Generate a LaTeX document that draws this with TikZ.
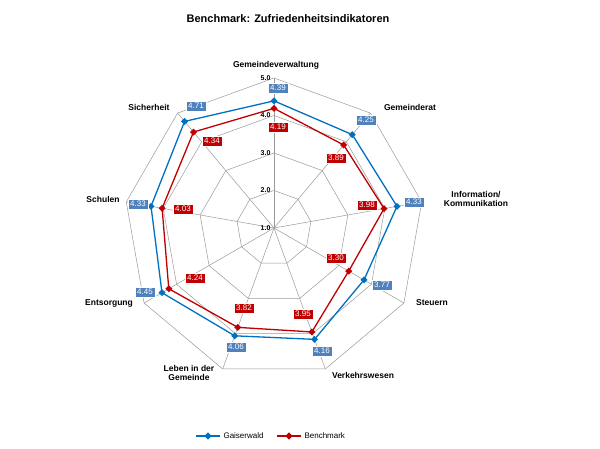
\documentclass[tikz,border=0pt]{standalone}
\usepackage{fontspec}
\setmainfont{Liberation Sans}
\usetikzlibrary{calc}
\usetikzlibrary{positioning}
\usetikzlibrary{shapes.geometric}
\definecolor{gblue}{RGB}{0,112,192}
\definecolor{lblue}{RGB}{79,129,189}
\definecolor{bred}{RGB}{192,0,0}
\tikzset{
  cat/.style={font=\bfseries\fontsize{8.5}{9.5}\selectfont,align=center},
  bluelab/.style={fill=lblue,draw=white,text=white,inner sep=2pt,font=\fontsize{8}{9}\selectfont},
  redlab/.style={fill=bred,draw=white,text=white,inner sep=2pt,font=\fontsize{8}{9}\selectfont},
  dmark/.style={diamond,inner sep=1.8pt}
}
\begin{document}
\begin{tikzpicture}[x=1pt,y=1pt]
\useasboundingbox (0,0) rectangle (600,448);
\coordinate (c) at (274,220);

% grid
\foreach \v in {2,3,4,5}{
  \draw[gray!80,line width=0.5pt] ($(c)+(90:{(\v-1)*37.5})$)
    \foreach \i in {1,...,8}{ -- ($(c)+({90-40*\i}:{(\v-1)*37.5})$)} -- cycle;
}
\foreach \i in {0,...,8}
  \draw[gray!80,line width=0.5pt] (c) -- ($(c)+({90-40*\i}:150)$);
\foreach \v in {1,2,3,4,5}
  \node[font=\bfseries\fontsize{7}{8}\selectfont,anchor=east] at ($(c)+(0,{(\v-1)*37.5})$) {\v.0};

% series
\foreach[count=\i from 0] \v in {4.39,4.25,4.33,3.77,4.16,4.06,4.45,4.33,4.71}
  \coordinate (g\i) at ($(c)+({90-40*\i}:{(\v-1)*37.5})$);
\foreach[count=\i from 0] \v in {4.19,3.89,3.98,3.30,3.95,3.82,4.24,4.03,4.34}
  \coordinate (b\i) at ($(c)+({90-40*\i}:{(\v-1)*37.5})$);
\draw[gblue,line width=1.3pt] (g0) -- (g1) -- (g2) -- (g3) -- (g4) -- (g5) -- (g6) -- (g7) -- (g8) -- cycle;
\draw[bred,line width=1.3pt] (b0) -- (b1) -- (b2) -- (b3) -- (b4) -- (b5) -- (b6) -- (b7) -- (b8) -- cycle;
\foreach \i in {0,...,8}{
  \node[dmark,fill=gblue] at (g\i) {};
  \node[dmark,fill=bred] at (b\i) {};
}

% data labels
\foreach \t/\x/\y in {4.39/278/88,4.25/366/120,4.33/414/202,3.77/382/285,4.16/322/351,4.06/236/347,4.45/145/292,4.33/138/204,4.71/196/106}
  \node[bluelab] at (\x,448-\y) {\t};
\foreach \t/\x/\y in {4.19/278/127,3.89/336/158,3.98/367/205,3.30/336/258,3.95/303/314,3.82/244/308,4.24/195/278,4.03/183/209,4.34/212/141}
  \node[redlab] at (\x,448-\y) {\t};

% categories
\node[cat] (k0) at (276,448-65) {Gemeindeverwaltung};
\node[cat] (k1) at (410,448-107) {Gemeinderat};
\node[cat] (k2) at (476,448-199) {Information/\\Kommunikation};
\node[cat] (k3) at (432,448-303) {Steuern};
\node[cat] (k4) at (363,448-375) {Verkehrswesen};
\node[cat] (k5) at (189,448-373) {Leben in der\\Gemeinde};
\node[cat] (k6) at (109,448-303) {Entsorgung};
\node[cat] (k7) at (103,448-199) {Schulen};
\node[cat] (k8) at (149,448-107) {Sicherheit};

% title and legend
\node[font=\bfseries\fontsize{11}{13}\selectfont] (title) at (288,448-19) {Benchmark: Zufriedenheitsindikatoren};
\coordinate (l1a) at (196,12); \coordinate (l1b) at (220,12);
\draw[gblue,line width=1.3pt] (l1a) -- (l1b);
\node[dmark,fill=gblue] at ($(l1a)!0.5!(l1b)$) {};
\node[anchor=west,font=\fontsize{8}{9}\selectfont] (lg) at (220,12) {Gaiserwald};
\coordinate (l2a) at (277,12); \coordinate (l2b) at (301,12);
\draw[bred,line width=1.3pt] (l2a) -- (l2b);
\node[dmark,fill=bred] at ($(l2a)!0.5!(l2b)$) {};
\node[anchor=west,font=\fontsize{8}{9}\selectfont] (lb) at (301,12) {Benchmark};
\end{tikzpicture}
\end{document}
